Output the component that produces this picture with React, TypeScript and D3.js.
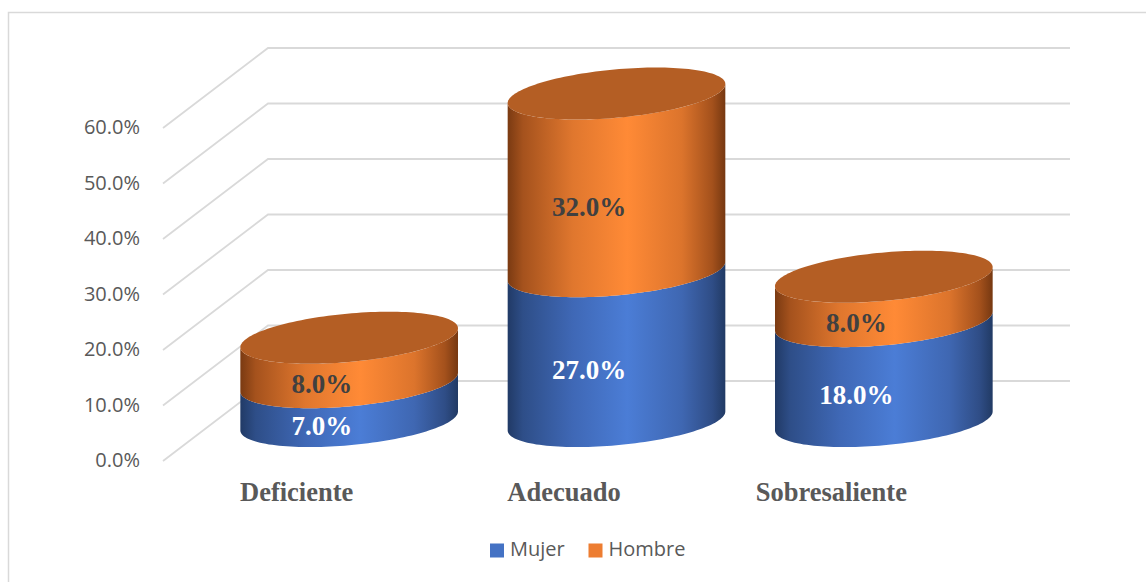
import React from "react";
import * as d3 from "d3";

// Chart data
const categories = ["Deficiente", "Adecuado", "Sobresaliente"];
const seriesNames = ["Mujer", "Hombre"];
const mujer = [0.07, 0.27, 0.18];
const hombre = [0.08, 0.32, 0.08];
const yTicks = [0, 0.1, 0.2, 0.3, 0.4, 0.5, 0.6];

const W = 1146;
const H = 582;
const plot = { left: 163, right: 965, top: 128, bottom: 461 };
const depth = { dx: 105, dy: 80 };

const sideStops: Record<string, [number, string][]> = {
  Mujer: [
    [0, "#213A66"],
    [0.07, "#2E4E88"],
    [0.3, "#3F68B6"],
    [0.55, "#4B7DD6"],
    [0.8, "#3F67B2"],
    [0.94, "#2F4D86"],
    [1, "#213A64"],
  ],
  Hombre: [
    [0, "#7A3A12"],
    [0.07, "#A5521D"],
    [0.3, "#E0772E"],
    [0.55, "#FF8A36"],
    [0.8, "#DC742C"],
    [0.94, "#A4511C"],
    [1, "#763811"],
  ],
};
const legendColors: Record<string, string> = { Mujer: "#4472C4", Hombre: "#ED7D31" };
const labelColors: Record<string, string> = { Mujer: "#FFFFFF", Hombre: "#404040" };
const capColor = "#B45E24";

export default function App() {
  const x = d3.scaleBand<string>().domain(categories).range([plot.left, plot.right]);
  const y = d3.scaleLinear().domain([0, 0.6]).range([plot.bottom, plot.top]);
  const fmt = d3.format(".1%");
  const bw = x.bandwidth();

  // Cylinder ellipse: x radius plus a skewed depth axis
  const r = bw * 0.379;
  const ea = r * 0.392;
  const eb = r * 0.257;
  const t0 = Math.atan2(ea, r);
  const pt = (cx: number, cy: number, t: number): [number, number] => [
    cx + r * Math.cos(t) + ea * Math.sin(t),
    cy - eb * Math.sin(t),
  ];
  const N = 72;
  const frontArc = (cx: number, cy: number) =>
    d3.range(N + 1).map((i) => pt(cx, cy, t0 + Math.PI + (Math.PI * i) / N));

  const centerX = (c: string) => (x(c) as number) + bw / 2 + depth.dx / 2;
  const centerY = (v: number) => y(v) - depth.dy / 2;

  const rows = categories.map((c, i) => ({ cat: c, Mujer: mujer[i], Hombre: hombre[i] }));
  const stacked = d3.stack<any>().keys(seriesNames)(rows);

  const line = d3.line();

  const sidePath = (cx: number, v0: number, v1: number) => {
    const lower = frontArc(cx, centerY(v0));
    const upper = frontArc(cx, centerY(v1)).reverse();
    return line([...lower, ...upper]) + "Z";
  };
  const capPath = (cx: number, v: number) =>
    line(d3.range(N * 2).map((i) => pt(cx, centerY(v), (Math.PI * i) / N))) + "Z";

  const axisFont = "'Open Sans', 'Noto Sans', sans-serif";
  const serifFont = "'Times New Roman', 'Liberation Serif', serif";

  return (
    <svg
      width={W}
      height={H}
      viewBox={`0 0 ${W} ${H}`}
      style={{ position: "absolute", left: 0, top: 0, background: "#fff" }}
    >
      <defs>
        {seriesNames.map((s) => (
          <linearGradient key={s} id={`side-${s}`} x1="0" x2="1" y1="0" y2="0">
            {sideStops[s].map(([o, c]) => (
              <stop key={o} offset={o} stopColor={c} />
            ))}
          </linearGradient>
        ))}
      </defs>

      <rect x={8.5} y={12.5} width={W + 20} height={H + 20} fill="#fff" stroke="#D9D9D9" strokeWidth={1.5} />

      {/* gridlines: side wall diagonal + back wall */}
      <g fill="none" stroke="#D9D9D9" strokeWidth={1.8}>
        {yTicks.map((v) => (
          <polyline
            key={v}
            points={`${plot.left},${y(v)} ${plot.left + depth.dx},${y(v) - depth.dy} ${plot.right + depth.dx},${y(v) - depth.dy}`}
          />
        ))}
      </g>

      {/* y axis labels */}
      <g fontFamily={axisFont} fontSize={20} fill="#595959" textAnchor="end">
        {yTicks.map((v) => (
          <text key={v} x={140} y={y(v) + 1} dominantBaseline="middle">
            {fmt(v)}
          </text>
        ))}
      </g>

      {/* cylinders */}
      {categories.map((c, ci) => {
        const cx = centerX(c);
        const top = stacked[stacked.length - 1][ci][1];
        return (
          <g key={c}>
            {stacked.map((layer) => {
              const [v0, v1] = layer[ci];
              return <path key={layer.key} d={sidePath(cx, v0, v1)} fill={`url(#side-${layer.key})`} />;
            })}
            <path d={capPath(cx, top)} fill={capColor} />
          </g>
        );
      })}

      {/* data labels */}
      <g fontFamily={serifFont} fontSize={27} fontWeight="bold" textAnchor="middle">
        {categories.map((c, ci) =>
          stacked.map((layer) => {
            const [v0, v1] = layer[ci];
            const cx = centerX(c) - r * 0.27;
            const cy = centerY((v0 + v1) / 2) + eb + 1;
            return (
              <text key={c + layer.key} x={cx} y={cy} dominantBaseline="middle" fill={labelColors[layer.key]}>
                {fmt(v1 - v0)}
              </text>
            );
          })
        )}
      </g>

      {/* category labels */}
      <g fontFamily={serifFont} fontSize={26.5} fontWeight="bold" fill="#595959" textAnchor="middle">
        {categories.map((c) => (
          <text key={c} x={(x(c) as number) + bw / 2} y={plot.bottom + 40}>
            {c}
          </text>
        ))}
      </g>

      {/* legend */}
      <g fontFamily={axisFont} fontSize={20} fill="#595959">
        {seriesNames.map((s, i) => {
          const lx = 490 + i * 98.5;
          return (
            <g key={s} transform={`translate(${lx},543.5)`}>
              <rect width={14} height={14} fill={legendColors[s]} />
              <text x={20} y={7} dominantBaseline="middle">
                {s}
              </text>
            </g>
          );
        })}
      </g>
    </svg>
  );
}
